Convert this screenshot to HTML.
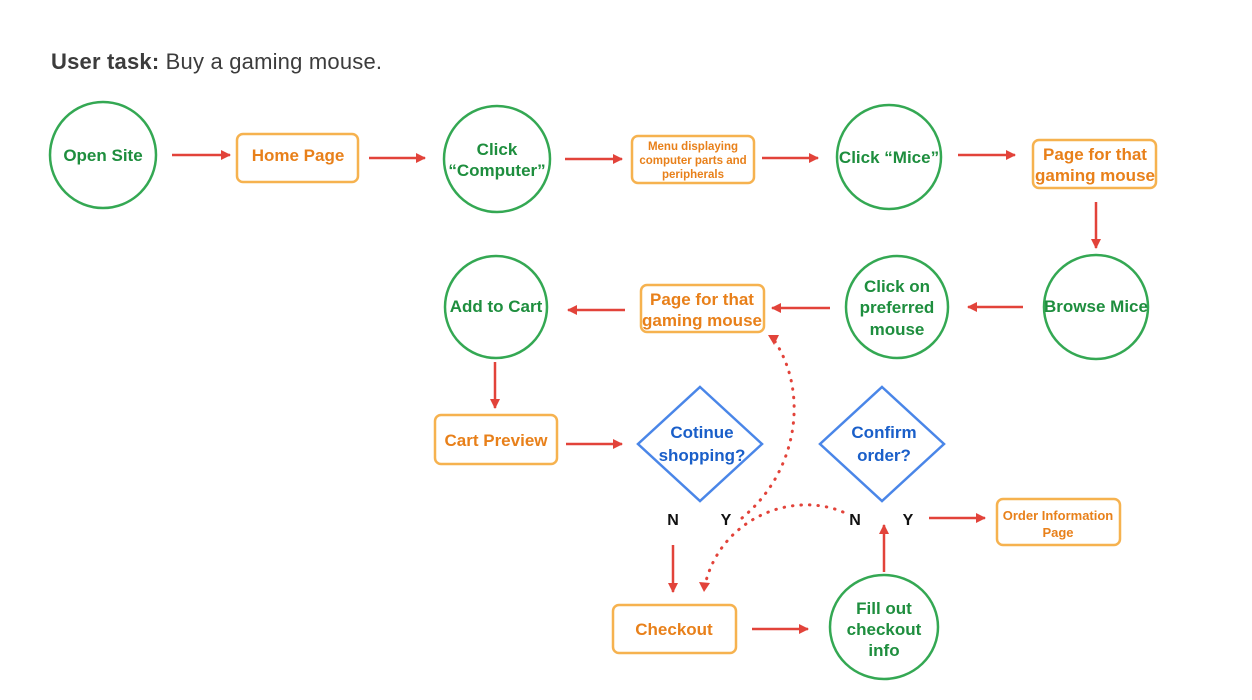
<!DOCTYPE html>
<html><head><meta charset="utf-8"><style>
html,body{margin:0;padding:0;background:#fff;width:1252px;height:700px;overflow:hidden}
svg text{font-family:"Liberation Sans",sans-serif;font-weight:bold}
</style></head><body>
<svg width="1252" height="700" viewBox="0 0 1252 700" xmlns="http://www.w3.org/2000/svg">
<defs>
<marker id="a" markerWidth="10" markerHeight="10" refX="9" refY="5" orient="auto" markerUnits="userSpaceOnUse"><path d="M0,0 L10,5 L0,10 z" fill="#e2433a"/></marker>
</defs>
<text x="51" y="69" font-size="22" fill="#3c3c3c" style="font-weight:bold" textLength="331" lengthAdjust="spacing">User task: <tspan style="font-weight:normal">Buy a gaming mouse.</tspan></text>
<g fill="none" stroke-width="2.5">
<g stroke="#34a853">
<circle cx="103" cy="155" r="53"/>
<circle cx="497" cy="159" r="53"/>
<circle cx="889" cy="157" r="52"/>
<circle cx="1096" cy="307" r="52"/>
<circle cx="897" cy="307" r="51"/>
<circle cx="496" cy="307" r="51"/>
<ellipse cx="884" cy="627" rx="54" ry="52"/>
</g>
<g stroke="#f6b24f">
<rect x="237" y="134" width="121" height="48" rx="6"/>
<rect x="632" y="136" width="122" height="47" rx="6"/>
<rect x="1033" y="140" width="123" height="48" rx="6"/>
<rect x="641" y="285" width="123" height="47" rx="6"/>
<rect x="435" y="415" width="122" height="49" rx="6"/>
<rect x="613" y="605" width="123" height="48" rx="6"/>
<rect x="997" y="499" width="123" height="46" rx="6"/>
</g>
<g stroke="#4a86e8">
<path d="M700,387 L762,444 L700,501 L638,444 z"/>
<path d="M882,387 L944,444 L882,501 L820,444 z"/>
</g>
<g stroke="#e2433a" stroke-width="2.5" marker-end="url(#a)">
<line x1="172" y1="155" x2="230" y2="155"/>
<line x1="369" y1="158" x2="425" y2="158"/>
<line x1="565" y1="159" x2="622" y2="159"/>
<line x1="762" y1="158" x2="818" y2="158"/>
<line x1="958" y1="155" x2="1015" y2="155"/>
<line x1="1096" y1="202" x2="1096" y2="248"/>
<line x1="1023" y1="307" x2="968" y2="307"/>
<line x1="830" y1="308" x2="772" y2="308"/>
<line x1="625" y1="310" x2="568" y2="310"/>
<line x1="495" y1="362" x2="495" y2="408"/>
<line x1="566" y1="444" x2="622" y2="444"/>
<line x1="673" y1="545" x2="673" y2="592"/>
<line x1="752" y1="629" x2="808" y2="629"/>
<line x1="884" y1="572" x2="884" y2="525"/>
<line x1="929" y1="518" x2="985" y2="518"/>
</g>
<g stroke="#e2433a" stroke-width="3" stroke-dasharray="0.5 8" stroke-linecap="round">
<path d="M742,518 C800,470 808,390 774,340"/>
<path d="M843,512 C790,490 720,520 705,585"/>
</g>
</g>
<path d="M768,335 L779,335 L774,345 z" fill="#e2433a"/>
<path d="M699,582 L710,583 L704,592 z" fill="#e2433a"/>
<g text-anchor="middle" fill="#1e8e3e" font-size="17">
<text x="103" y="161">Open Site</text>
<text x="497" y="155">Click</text><text x="497" y="176">“Computer”</text>
<text x="889" y="163">Click “Mice”</text>
<text x="1096" y="312">Browse Mice</text>
<text x="897" y="292">Click on</text><text x="897" y="313">preferred</text><text x="897" y="335">mouse</text>
<text x="496" y="312">Add to Cart</text>
<text x="884" y="614">Fill out</text><text x="884" y="635">checkout</text><text x="884" y="656">info</text>
</g>
<g text-anchor="middle" fill="#e8801a" font-size="17">
<text x="298" y="161">Home Page</text>
<text x="1095" y="160">Page for that</text><text x="1095" y="181">gaming mouse</text>
<text x="702" y="305">Page for that</text><text x="702" y="326">gaming mouse</text>
<text x="496" y="446">Cart Preview</text>
<text x="674" y="635">Checkout</text>
<text x="693" y="150" font-size="11.5">Menu displaying</text><text x="693" y="164" font-size="11.5">computer parts and</text><text x="693" y="178" font-size="11.5">peripherals</text>
<text x="1058" y="520" font-size="13">Order Information</text><text x="1058" y="537" font-size="13">Page</text>
</g>
<g text-anchor="middle" fill="#1a5fc9" font-size="17">
<text x="702" y="438">Cotinue</text><text x="702" y="461">shopping?</text>
<text x="884" y="438">Confirm</text><text x="884" y="461">order?</text>
</g>
<g text-anchor="middle" fill="#111" font-size="16">
<text x="673" y="525">N</text><text x="726" y="525">Y</text>
<text x="855" y="525">N</text><text x="908" y="525">Y</text>
</g>
</svg>
</body></html>
